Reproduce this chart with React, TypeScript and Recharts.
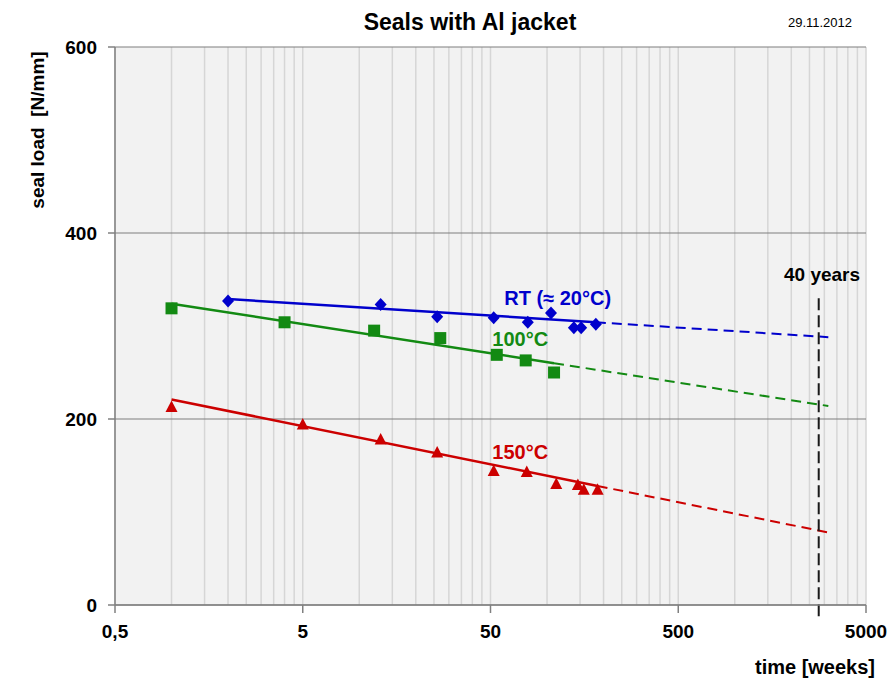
import {
    ComposedChart,
    CartesianGrid,
    XAxis,
    YAxis,
    Line,
    Scatter,
    ReferenceLine,
    ReferenceDot,
} from "recharts";

const FONT = "'Liberation Sans', Arial, sans-serif";

// axis ticks (grid lines at every minor step, labels only at the decades)
const xGridTicks = [
    0.5, 1, 1.5, 2, 2.5, 3, 3.5, 4, 4.5,
    5, 10, 15, 20, 25, 30, 35, 40, 45,
    50, 100, 150, 200, 250, 300, 350, 400, 450,
    500, 1000, 1500, 2000, 2500, 3000, 3500, 4000, 4500,
    5000,
];
const xLabelTicks = [0.5, 5, 50, 500, 5000];
const xLabelText = ["0,5", "5", "50", "500", "5000"];
const yTicks = [0, 200, 400, 600];

// measured points
const rtWeeks = [2, 13, 26, 52, 79, 105, 139, 152, 182];
const rtLoad = [327, 323, 310, 309, 304, 314, 298, 298, 302];
const c100Weeks = [1, 4, 12, 27, 54, 77, 109];
const c100Load = [319, 304, 295, 287, 269, 263, 250];
const c150Weeks = [1, 5, 13, 26, 52, 78, 112, 146, 157, 186];
const c150Load = [213, 194, 178, 164, 144, 143, 130, 129, 124, 124];

// trend lines: fitted range (solid) and extrapolation (dashed)
const rtFitWeeks = [2, 182];
const rtFitLoad = [329, 304];
const rtExtWeeks = [182, 3150];
const rtExtLoad = [304, 288];
const c100FitWeeks = [1, 109];
const c100FitLoad = [324, 260];
const c100ExtWeeks = [109, 3150];
const c100ExtLoad = [260, 214];
const c150FitWeeks = [1, 186];
const c150FitLoad = [221, 128];
const c150ExtWeeks = [186, 3150];
const c150ExtLoad = [128, 78];

const fortyYears = 2800;

const pts = (t: number[], v: number[]) => t.map((x, i) => ({ t: x, v: v[i] }));

const BLUE = "#0000cc";
const GREEN = "#138a13";
const RED = "#cc0000";

const TICK_SIZE = 8;
const TICK_MARGIN = 12;

const XTick = (props: any) => {
    const { x, y, payload } = props;
    const i = xLabelTicks.indexOf(payload.value);
    if (i < 0) return null;
    return (
        <g>
            <line
                x1={x}
                x2={x}
                y1={y - TICK_MARGIN - TICK_SIZE}
                y2={y - TICK_MARGIN}
                stroke="#808080"
                strokeWidth={1.5}
            />
            <text
                x={x}
                y={y}
                dy="0.71em"
                textAnchor="middle"
                fill="#000"
                fontSize={19}
                fontWeight="bold"
                fontFamily={FONT}
            >
                {xLabelText[i]}
            </text>
        </g>
    );
};

const diamond = (color: string) => (p: any) => (
    <path
        d={`M${p.cx},${p.cy - 6.5} L${p.cx + 6},${p.cy} L${p.cx},${p.cy + 6.5} L${p.cx - 6},${p.cy} Z`}
        fill={color}
    />
);
const square = (color: string) => (p: any) => (
    <rect x={p.cx - 6} y={p.cy - 6} width={12} height={12} fill={color} />
);
const triangle = (color: string) => (p: any) => (
    <path
        d={`M${p.cx},${p.cy - 6.5} L${p.cx + 6},${p.cy + 5} L${p.cx - 6},${p.cy + 5} Z`}
        fill={color}
    />
);

const abs = (left: number, top: number, extra: any = {}) => ({
    position: "absolute" as const,
    left,
    top,
    transform: "translate(-50%, -50%)",
    whiteSpace: "nowrap" as const,
    fontFamily: FONT,
    color: "#000",
    ...extra,
});

export default function App() {
    return (
        <div
            style={{
                position: "absolute",
                left: 0,
                top: 0,
                width: 890,
                height: 692,
                background: "#fff",
                fontFamily: FONT,
            }}
        >
            <ComposedChart
                width={890}
                height={692}
                margin={{ top: 47, right: 24, left: 0, bottom: 0 }}
                style={{ fontFamily: FONT }}
            >
                <CartesianGrid
                    horizontal={false}
                    stroke="#d6d6d6"
                    strokeWidth={1.5}
                    fill="#f2f2f2"
                    fillOpacity={1}
                />
                <CartesianGrid vertical={false} stroke="#7f7f7f" strokeWidth={1.2} />
                <XAxis
                    dataKey="t"
                    type="number"
                    scale="log"
                    domain={[0.5, 5000]}
                    ticks={xGridTicks}
                    interval={0}
                    height={87}
                    tickLine={false}
                    tickSize={TICK_SIZE}
                    tickMargin={TICK_MARGIN}
                    tick={<XTick />}
                    stroke="#808080"
                    strokeWidth={1.5}
                    allowDataOverflow
                />
                <YAxis
                    type="number"
                    domain={[0, 600]}
                    ticks={yTicks}
                    width={115}
                    tickSize={7}
                    tickMargin={11}
                    stroke="#808080"
                    strokeWidth={1.5}
                    tick={{ fill: "#000", fontSize: 19, fontWeight: "bold", fontFamily: FONT }}
                />

                <Line data={pts(rtFitWeeks, rtFitLoad)} dataKey="v" stroke={BLUE} strokeWidth={2.5} dot={false} isAnimationActive={false} />
                <Line data={pts(rtExtWeeks, rtExtLoad)} dataKey="v" stroke={BLUE} strokeWidth={2} strokeDasharray="10 6" dot={false} isAnimationActive={false} />
                <Line data={pts(c100FitWeeks, c100FitLoad)} dataKey="v" stroke={GREEN} strokeWidth={2.5} dot={false} isAnimationActive={false} />
                <Line data={pts(c100ExtWeeks, c100ExtLoad)} dataKey="v" stroke={GREEN} strokeWidth={2} strokeDasharray="10 6" dot={false} isAnimationActive={false} />
                <Line data={pts(c150FitWeeks, c150FitLoad)} dataKey="v" stroke={RED} strokeWidth={2.5} dot={false} isAnimationActive={false} />
                <Line data={pts(c150ExtWeeks, c150ExtLoad)} dataKey="v" stroke={RED} strokeWidth={2} strokeDasharray="10 6" dot={false} isAnimationActive={false} />

                <Scatter data={pts(rtWeeks, rtLoad)} dataKey="v" shape={diamond(BLUE)} isAnimationActive={false} />
                <Scatter data={pts(c100Weeks, c100Load)} dataKey="v" shape={square(GREEN)} isAnimationActive={false} />
                <Scatter data={pts(c150Weeks, c150Load)} dataKey="v" shape={triangle(RED)} isAnimationActive={false} />

                <ReferenceLine
                    segment={[
                        { x: fortyYears, y: -12 },
                        { x: fortyYears, y: 333 },
                    ]}
                    ifOverflow="visible"
                    stroke="#1a1a1a"
                    strokeWidth={2}
                    strokeDasharray="12 5"
                />

                <ReferenceDot x={114} y={330} r={0} fill="none" stroke="none"
                    label={{ value: "RT (≈ 20°C)", position: "center", fill: BLUE, fontSize: 20, fontWeight: "bold", fontFamily: FONT }} />
                <ReferenceDot x={72} y={286} r={0} fill="none" stroke="none"
                    label={{ value: "100°C", position: "center", fill: GREEN, fontSize: 20, fontWeight: "bold", fontFamily: FONT }} />
                <ReferenceDot x={72} y={164.5} r={0} fill="none" stroke="none"
                    label={{ value: "150°C", position: "center", fill: RED, fontSize: 20, fontWeight: "bold", fontFamily: FONT }} />
                <ReferenceDot x={2916} y={356} r={0} fill="none" stroke="none"
                    label={{ value: "40 years", position: "center", fill: "#000", fontSize: 19, fontWeight: "bold", fontFamily: FONT }} />
            </ComposedChart>

            <div style={abs(470, 22, { fontSize: 23, fontWeight: "bold" })}>Seals with Al jacket</div>
            <div style={abs(820, 22, { fontSize: 13 })}>29.11.2012</div>
            <div style={abs(38, 130, { fontSize: 19, fontWeight: "bold", transform: "translate(-50%, -50%) rotate(-90deg)" })}>
                seal load&nbsp;&nbsp;[N/mm]
            </div>
            <div style={abs(815, 667, { fontSize: 20, fontWeight: "bold" })}>time [weeks]</div>
        </div>
    );
}
